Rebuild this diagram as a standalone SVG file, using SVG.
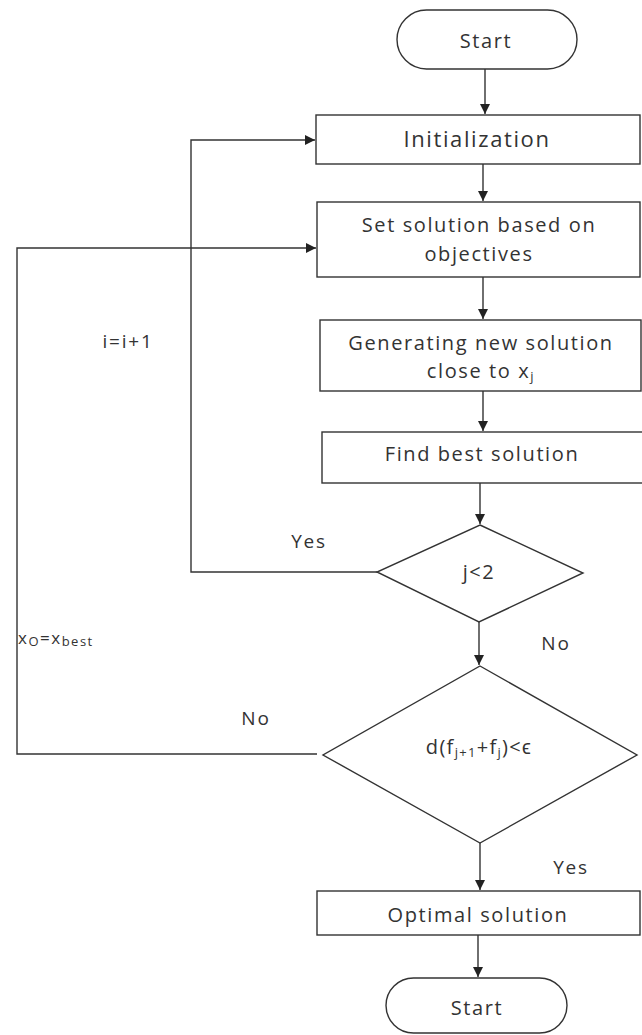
<svg xmlns="http://www.w3.org/2000/svg" width="642" height="1035" viewBox="0 0 642 1035">
<style>
.box{fill:#fff;stroke:#333;stroke-width:1.4}
.ln{fill:none;stroke:#333;stroke-width:1.4}
.t{font-family:"Open Sans","Liberation Sans",sans-serif;font-size:20px;letter-spacing:1.6px;fill:#333;text-anchor:middle}
.lab{font-family:"Open Sans","Liberation Sans",sans-serif;font-size:19px;letter-spacing:1.8px;fill:#333;text-anchor:middle}
</style>
<defs>
<marker id="ah" viewBox="0 0 10 10" refX="10" refY="5" markerWidth="10" markerHeight="10" markerUnits="userSpaceOnUse" orient="auto">
<path d="M0,0 L10,5 L0,10 z" fill="#222"/>
</marker>
</defs>
<g id="connectors">
<line class="ln" x1="485" y1="69" x2="485" y2="114" marker-end="url(#ah)"/>
<line class="ln" x1="483" y1="164" x2="483" y2="201" marker-end="url(#ah)"/>
<line class="ln" x1="483" y1="277" x2="483" y2="319" marker-end="url(#ah)"/>
<line class="ln" x1="483" y1="391" x2="483" y2="431" marker-end="url(#ah)"/>
<line class="ln" x1="480" y1="483" x2="480" y2="524" marker-end="url(#ah)"/>
<line class="ln" x1="479" y1="622" x2="479" y2="665" marker-end="url(#ah)"/>
<line class="ln" x1="480" y1="843" x2="480" y2="890" marker-end="url(#ah)"/>
<line class="ln" x1="478" y1="935" x2="478" y2="977" marker-end="url(#ah)"/>
<polyline class="ln" points="377,572 191,572 191,140 315,140" marker-end="url(#ah)"/>
<polyline class="ln" points="317,754 17,754 17,248 316,248" marker-end="url(#ah)"/>
<text class="lab" x="309" y="548">Yes</text>
<text class="lab" x="128" y="348">i=i+1</text>
<text class="lab" x="556" y="650">No</text>
<text class="lab" x="256" y="725">No</text>
<text class="lab" x="571" y="874">Yes</text>
<text class="lab" x="18" y="644" style="text-anchor:start;font-size:17px;letter-spacing:1.5px">x<tspan font-size="13" dy="2">O</tspan><tspan dy="-2">=x</tspan><tspan font-size="13" dy="2">best</tspan></text>
</g>
<g id="start">
<rect class="box" x="397" y="10" width="180" height="59" rx="29.5"/>
<text class="t" x="486" y="48">Start</text>
</g>
<g id="init">
<rect class="box" x="316" y="115" width="324" height="49"/>
<text class="t" x="477" y="147" style="font-size:22px;letter-spacing:1.6px">Initialization</text>
</g>
<g id="set">
<rect class="box" x="317" y="202" width="323" height="75"/>
<text class="t" x="479" y="232">Set solution based on</text>
<text class="t" x="479" y="261">objectives</text>
</g>
<g id="gen">
<rect class="box" x="320" y="320" width="321" height="71"/>
<text class="t" x="481" y="350">Generating new solution</text>
<text class="t" x="481" y="378">close to  x<tspan font-size="13" dy="3">j</tspan></text>
</g>
<g id="find">
<rect class="box" x="322" y="432" width="330" height="51"/>
<text class="t" x="482" y="461">Find best solution</text>
</g>
<g id="d1">
<polygon class="box" points="480,525 583,573 479,622 377,572"/>
<text class="t" x="479" y="579">j&lt;2</text>
</g>
<g id="d2">
<polygon class="box" points="480,666 637,755 480,843 323,755"/>
<text class="t" x="479" y="754" style="letter-spacing:1.3px">d(f<tspan font-size="13" dy="3">j+1</tspan><tspan dy="-3">+f</tspan><tspan font-size="13" dy="3">j</tspan><tspan dy="-3">)&lt;ϵ</tspan></text>
</g>
<g id="opt">
<rect class="box" x="317" y="891" width="323" height="44"/>
<text class="t" x="478" y="922">Optimal solution</text>
</g>
<g id="end">
<rect class="box" x="386" y="978" width="181" height="55" rx="27.5"/>
<text class="t" x="477" y="1015">Start</text>
</g>
</svg>
